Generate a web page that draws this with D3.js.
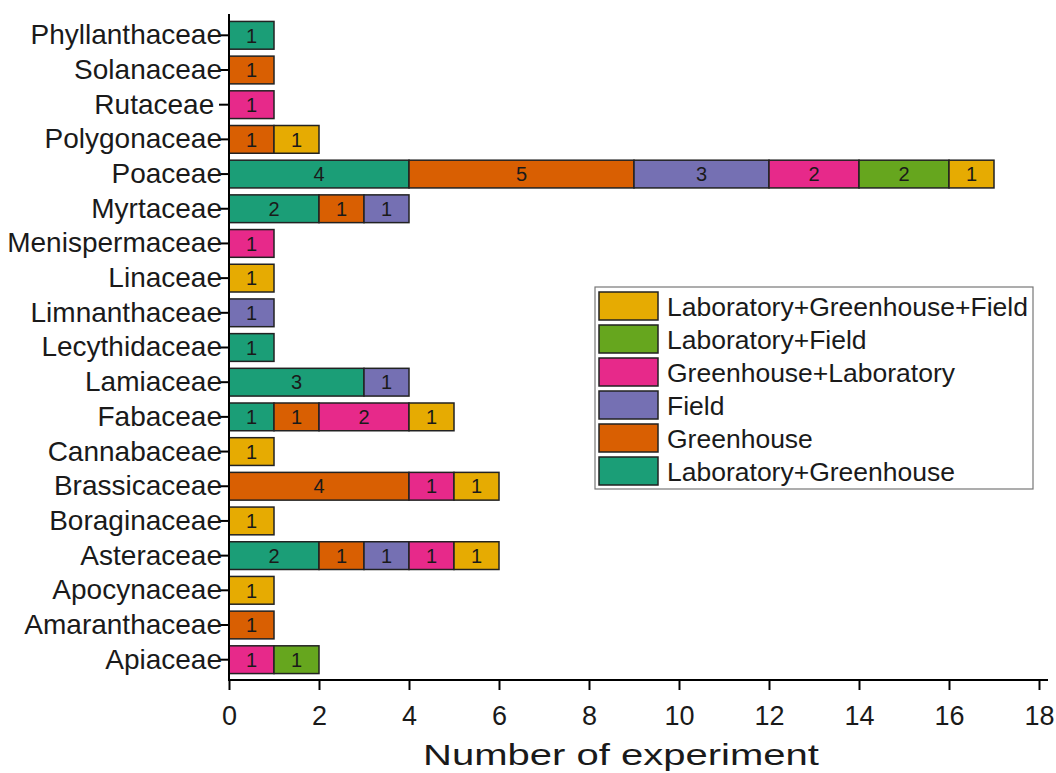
<!DOCTYPE html>
<html>
<head>
<meta charset="utf-8">
<script src="https://cdnjs.cloudflare.com/ajax/libs/d3/7.8.5/d3.min.js"></script>
<style>
  body { margin: 0; background: #fff; }
  svg text { font-family: "Liberation Sans", Arial, sans-serif; fill: #1a1a1a; }
</style>
</head>
<body>
<div id="chart"></div>
<script>
// Families, top to bottom
const families = ['Phyllanthaceae', 'Solanaceae', 'Rutaceae\u00a0', 'Polygonaceae', 'Poaceae',
  'Myrtaceae', 'Menispermaceae', 'Linaceae', 'Limnanthaceae', 'Lecythidaceae', 'Lamiaceae',
  'Fabaceae', 'Cannabaceae', 'Brassicaceae', 'Boraginaceae', 'Asteraceae', 'Apocynaceae',
  'Amaranthaceae', 'Apiaceae'];

// Stack order (left to right)
const seriesNames = ['Laboratory+Greenhouse', 'Greenhouse', 'Field', 'Greenhouse+Laboratory',
  'Laboratory+Field', 'Laboratory+Greenhouse+Field'];
const seriesColors = ['#1b9e77', '#d95f02', '#7570b3', '#e7298a', '#66a61e', '#e6ab02'];

// Values per family, in the same order as families
const labGreenhouse      = [1, 0, 0, 0, 4, 2, 0, 0, 0, 1, 3, 1, 0, 0, 0, 2, 0, 0, 0];
const greenhouse         = [0, 1, 0, 1, 5, 1, 0, 0, 0, 0, 0, 1, 0, 4, 0, 1, 0, 1, 0];
const field              = [0, 0, 0, 0, 3, 1, 0, 0, 1, 0, 1, 0, 0, 0, 0, 1, 0, 0, 0];
const greenhouseLab      = [0, 0, 1, 0, 2, 0, 1, 0, 0, 0, 0, 2, 0, 1, 0, 1, 0, 0, 1];
const labField           = [0, 0, 0, 0, 2, 0, 0, 0, 0, 0, 0, 0, 0, 0, 0, 0, 0, 0, 1];
const labGreenhouseField = [0, 0, 0, 1, 1, 0, 0, 1, 0, 0, 0, 1, 1, 1, 1, 1, 1, 0, 0];

const xTicks = [0, 2, 4, 6, 8, 10, 12, 14, 16, 18];

const seriesValues = [labGreenhouse, greenhouse, field, greenhouseLab, labField, labGreenhouseField];

const width = 1056, height = 773;

const svg = d3.select('#chart').append('svg')
    .attr('width', width)
    .attr('height', height);

const x = d3.scaleLinear().domain([0, 18]).range([229, 1039]);
const y = d3.scaleBand().domain(families).range([14.5, 680.5]).padding(0.2);
const color = d3.scaleOrdinal().domain(seriesNames).range(seriesColors);

// Build table for stacking
const table = families.map((f, i) => {
  const row = {family: f};
  seriesNames.forEach((s, j) => { row[s] = seriesValues[j][i]; });
  return row;
});
const stacked = d3.stack().keys(seriesNames)(table);

// Bars
const layers = svg.append('g').selectAll('g')
  .data(stacked)
  .join('g')
    .attr('fill', d => color(d.key));

layers.selectAll('rect')
  .data(d => d.filter(s => s[1] - s[0] > 0))
  .join('rect')
    .attr('x', d => x(d[0]))
    .attr('y', d => y(d.data.family))
    .attr('width', d => x(d[1]) - x(d[0]))
    .attr('height', y.bandwidth())
    .attr('stroke', '#222')
    .attr('stroke-width', 1.5);

layers.selectAll('text')
  .data(d => d.filter(s => s[1] - s[0] > 0))
  .join('text')
    .attr('x', d => (x(d[0]) + x(d[1])) / 2)
    .attr('y', d => y(d.data.family) + y.bandwidth() / 2)
    .attr('dy', '0.36em')
    .attr('text-anchor', 'middle')
    .attr('font-size', 20)
    .text(d => d[1] - d[0]);

// X axis
const xAxis = svg.append('g')
    .attr('transform', 'translate(0,680)')
    .call(d3.axisBottom(x).tickValues(xTicks).tickSize(10).tickPadding(16).tickSizeOuter(0));
xAxis.select('.domain').attr('d', 'M229,0H1048').attr('stroke-width', 2);
xAxis.selectAll('.tick line').attr('stroke-width', 2);
xAxis.selectAll('.tick text').attr('font-size', 27).attr('fill', '#1a1a1a');

// Y axis
const yAxis = svg.append('g')
    .attr('transform', 'translate(229,0)')
    .call(d3.axisLeft(y).tickSize(10).tickPadding(-3).tickSizeOuter(0));
yAxis.select('.domain').attr('d', 'M0,14V681').attr('stroke-width', 2);
yAxis.selectAll('.tick line').attr('stroke-width', 2);
yAxis.selectAll('.tick text').attr('font-size', 28).attr('fill', '#1a1a1a');

// Axis title
svg.append('text')
    .attr('x', 621)
    .attr('y', 765)
    .attr('text-anchor', 'middle')
    .attr('font-size', 30)
    .attr('textLength', 396)
    .attr('lengthAdjust', 'spacingAndGlyphs')
    .text('Number of experiment');

// Legend (top entry is last series)
const legend = svg.append('g').attr('transform', 'translate(595,287)');
legend.append('rect')
    .attr('width', 438).attr('height', 202)
    .attr('fill', '#fff').attr('stroke', '#777').attr('stroke-width', 1.2);
const legendItems = seriesNames.slice().reverse();
const li = legend.selectAll('g.item')
  .data(legendItems)
  .join('g')
    .attr('class', 'item')
    .attr('transform', (d, i) => `translate(4,${5 + i * 33})`);
li.append('rect')
    .attr('width', 59).attr('height', 28)
    .attr('fill', d => color(d))
    .attr('stroke', '#222').attr('stroke-width', 1.5);
li.append('text')
    .attr('x', 68).attr('y', 14).attr('dy', '0.36em')
    .attr('font-size', 26.5)
    .text(d => d);
</script>
</body>
</html>
